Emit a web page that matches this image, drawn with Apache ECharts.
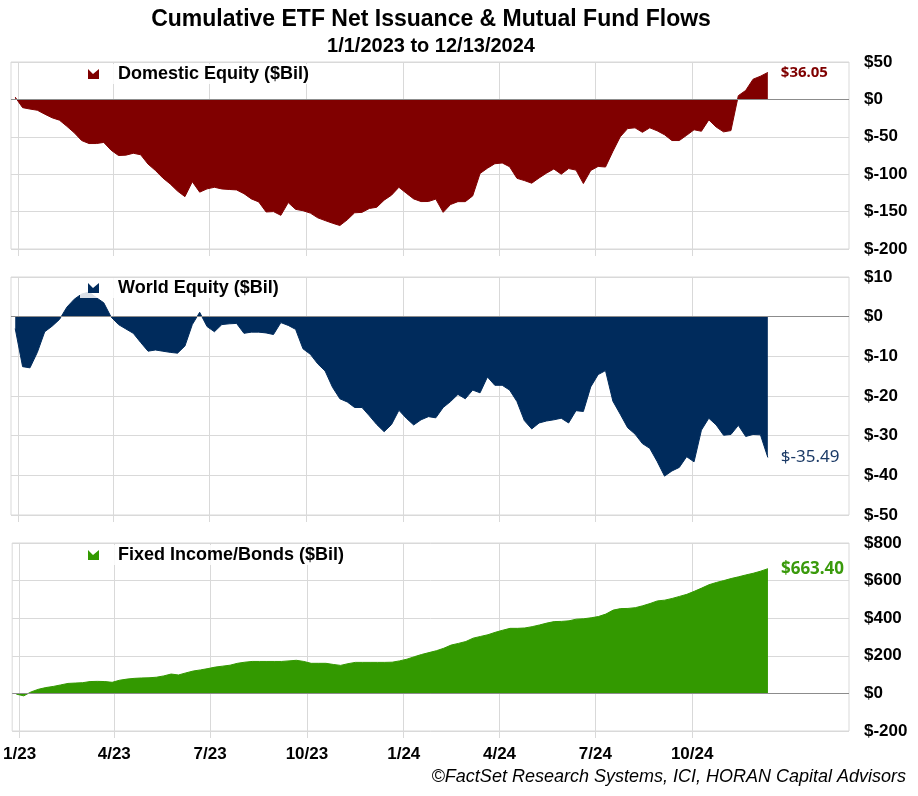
<!DOCTYPE html>
<html><head><meta charset="utf-8">
<script src="https://cdn.jsdelivr.net/npm/echarts@6/dist/echarts.min.js"></script>
<style>html,body{margin:0;padding:0;background:#fff}#c{width:918px;height:796px}</style>
</head><body><div id="c"></div>
<script>
// Weekly observations, first week and step
const firstWeek = [2022, 11, 29];
const weekCount = 103;

const domestic = [3, -11, -12.9, -14.5, -19.7, -24.6, -27.8, -36, -44.6, -55,
  -59, -59, -57.5, -68, -75, -74.5, -72, -74, -86.5, -95,
  -105, -113, -122.6, -130, -110, -124, -119.6, -117.5, -119.7, -120.4,
  -121, -126, -133, -137, -150.5, -150, -155, -138, -147, -148.8,
  -152, -158.3, -162, -165.5, -168.6, -161, -151.6, -151, -145.8, -144.2,
  -134.7, -128, -117.5, -125.4, -133, -136.6, -136.5, -133.3, -151, -140.5,
  -136.7, -136.7, -129, -99, -92, -86, -85, -90, -105.5, -108.5,
  -112, -105, -98.6, -93, -100, -92.5, -94.5, -112.5, -95, -89.6,
  -90.4, -69.5, -50, -39, -38, -44, -38, -42, -47.3, -55,
  -55, -48, -40.6, -42.6, -27.4, -37, -43.4, -41.7, 5, 12,
  27, 31, 36.05];

const world = [-3, -12.6, -12.9, -9, -3.8, -2.4, -0.7, 2.4, 4.4, 5.7,
  6.2, 4.8, 3.5, -0.1, -2, -3.1, -4.2, -6.5, -8.7, -8.4,
  -8.7, -9, -9.2, -7.4, -2, 1.1, -2.5, -3.8, -2, -1.8,
  -1.7, -4.2, -3.9, -3.9, -4.1, -4.5, -1.5, -2.2, -3.2, -8.1,
  -9.5, -11.9, -13.7, -17.8, -20.7, -21.5, -22.9, -22.9, -25, -27.2,
  -29, -27.2, -23.6, -25.6, -27.3, -26, -25.2, -25.5, -22.9, -21.4,
  -19.6, -20.7, -18.5, -19.2, -15.2, -17.3, -17.3, -18.5, -21.4, -26.2,
  -28.3, -26.8, -26.3, -26, -25.6, -26.8, -23.7, -23.9, -17.7, -14.6,
  -13.6, -21.3, -24.6, -28, -29.6, -32, -33.2, -36.5, -40.2, -38.9,
  -38, -35.3, -36.6, -28.6, -25.6, -27.3, -29.9, -29.7, -27.4, -30.2,
  -29.7, -29.8, -35.49];

const fixedIncome = [-4, -13, 8, 22, 31, 37, 45, 53, 55, 57,
  63, 64, 63, 59, 70, 76, 80, 82, 83, 86,
  93, 103, 98, 109, 119, 125, 132, 140, 145, 150,
  160, 166, 170, 170, 170, 170, 170, 173, 176, 170,
  160, 160, 160, 154, 149, 158, 165, 165, 165, 165,
  165, 166, 173, 182, 195, 207, 217, 227, 240, 257,
  266, 276, 294, 303, 312, 325, 336, 346, 346, 348,
  355, 364, 374, 382, 383, 386, 395, 397, 402, 409,
  422, 443, 451, 452, 456, 466, 478, 492, 496, 505,
  516, 527, 543, 560, 578, 590, 600, 611, 620, 630,
  639, 650, 663.4];

const seriesNames = ['Domestic Equity ($Bil)', 'World Equity ($Bil)', 'Fixed Income/Bonds ($Bil)'];
const xTickDates = [[2023,0,1],[2023,3,1],[2023,6,1],[2023,9,1],[2024,0,1],[2024,3,1],[2024,6,1],[2024,9,1]];
const xTickLabels = ['1/23', '4/23', '7/23', '10/23', '1/24', '4/24', '7/24', '10/24'];
const yMins = [-200, -50, -200];
const yMaxs = [50, 10, 800];
const yIntervals = [50, 10, 200];
const titleText = 'Cumulative ETF Net Issuance & Mutual Fund Flows';
const subtitleText = '1/1/2023 to 12/13/2024';
const sourceText = '\u00A9FactSet Research Systems, ICI, HORAN Capital Advisors';

// ---- styling / layout ----
const colors = ['#800000', '#002B5C', '#339900'];
const labelColors = ['#7F0000', '#1B3A66', '#3A9A0C'];
const labelSizes = [15, 17, 17];
const labelWeights = ['bold', 'normal', 'bold'];
const gridTops = [62, 277, 543];
const gridHeights = [187, 238, 188];
const legendTops = [64, 278, 545];
const gridColor = '#d9d9d9';
const axisFont = '"Liberation Sans", Arial, sans-serif';

const DAY = 86400000;
const t0 = Date.UTC(firstWeek[0], firstWeek[1], firstWeek[2]);
const weeks = [];
for (let i = 0; i < weekCount; i++) weeks.push(t0 + i * 7 * DAY);
const tickTs = xTickDates.map(d => Date.UTC(d[0], d[1], d[2]));
const xMin = Date.UTC(2022, 11, 25);
const xMax = Date.UTC(2025, 1, 27);
const allValues = [domestic, world, fixedIncome];

const chart = echarts.init(document.getElementById('c'), null, {renderer: 'canvas'});

const option = {
  animation: false,
  backgroundColor: '#ffffff',
  grid: gridTops.map((t, i) => ({
    left: 11, right: 69, top: t, height: gridHeights[i],
    show: true, borderColor: gridColor, borderWidth: 1, backgroundColor: 'transparent'
  })),
  xAxis: gridTops.map((t, i) => ({
    type: 'value', gridIndex: i, min: xMin, max: xMax, scale: true,
    axisLine: {show: false, onZero: false},
    axisTick: {show: true, customValues: tickTs, length: 7, inside: false, lineStyle: {color: gridColor}},
    splitLine: {show: true, lineStyle: {color: gridColor, width: 1}},
    axisLabel: {
      show: i === 2, customValues: tickTs, margin: 15,
      fontSize: 17, fontWeight: 'bold', color: '#000', fontFamily: axisFont,
      hideOverlap: false,
      formatter: v => { const k = tickTs.indexOf(v); return k >= 0 ? xTickLabels[k] : ''; }
    }
  })),
  yAxis: gridTops.map((t, i) => ({
    type: 'value', gridIndex: i, position: 'right',
    min: yMins[i], max: yMaxs[i], interval: yIntervals[i],
    axisLine: {show: false}, axisTick: {show: false},
    splitLine: {show: true, lineStyle: {color: gridColor, width: 1}},
    axisLabel: {
      margin: 15, fontSize: 17, fontWeight: 'bold', color: '#000', fontFamily: axisFont,
      formatter: v => '$' + v
    }
  })),
  legend: seriesNames.map((n, i) => ({
    data: [n], left: 80, top: legendTops[i], orient: 'horizontal',
    selectedMode: false,
    icon: 'path://M0,0 L5,5 L11,0 L11,10 L0,10 Z',
    itemWidth: 11, itemHeight: 10,
    backgroundColor: 'rgba(255,255,255,0.85)',
    padding: [1, 6, 1, 8],
    textStyle: {fontSize: 18, fontWeight: 'bold', color: '#000', fontFamily: axisFont, padding: [0, 0, 0, 14]}
  })),
  series: seriesNames.map((n, i) => ({
    name: n, type: 'line', xAxisIndex: i, yAxisIndex: i,
    data: weeks.map((w, j) => [w, allValues[i][j]]),
    symbol: 'none', showSymbol: false,
    lineStyle: {color: colors[i], width: 1},
    itemStyle: {color: colors[i]},
    areaStyle: {color: colors[i], opacity: 1},
    endLabel: {
      show: true, distance: 13, color: labelColors[i],
      fontFamily: '"Noto Sans", "Open Sans", sans-serif',
      fontSize: labelSizes[i], fontWeight: labelWeights[i],
      formatter: p => '$' + p.value[1].toFixed(2)
    },
    markLine: {
      silent: true, symbol: 'none', animation: false,
      label: {show: false},
      lineStyle: {color: '#8c8c8c', width: 1, type: 'solid'},
      data: [{yAxis: 0}]
    }
  })),
  graphic: [
    {type: 'text', x: 431, y: 20, style: {text: titleText, align: 'center', verticalAlign: 'middle',
      font: 'bold 23px "Liberation Sans", Arial, sans-serif', fill: '#000'}},
    {type: 'text', x: 431, y: 46, style: {text: subtitleText, align: 'center', verticalAlign: 'middle',
      font: 'bold 20px "Liberation Sans", Arial, sans-serif', fill: '#000'}},
    {type: 'text', x: 906, y: 777, style: {text: sourceText, align: 'right', verticalAlign: 'middle',
      font: 'italic 18px "Liberation Sans", Arial, sans-serif', fill: '#000'}}
  ]
};
chart.setOption(option);
</script>
</body></html>
